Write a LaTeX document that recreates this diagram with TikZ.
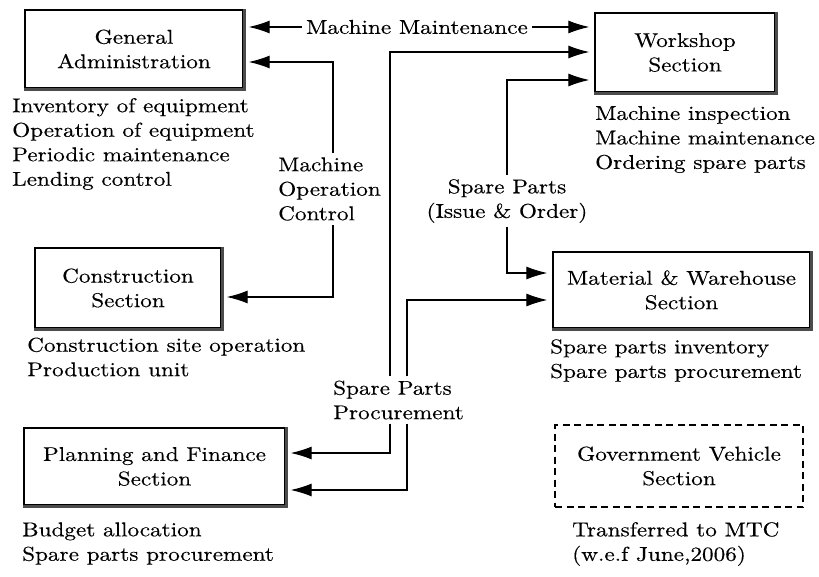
\documentclass[tikz,border=0pt]{standalone}
\usepackage{fontspec}
\setmainfont{lmroman10-regular.otf}[FakeStretch=1.16,FakeBold=0.35]
\usetikzlibrary{arrows.meta}

\begin{document}
\begin{tikzpicture}[x=1pt,y=-1pt,
  every node/.style={font=\fontsize{20}{24.5}\selectfont},
  box/.style={draw, line width=1.3pt, align=center, inner sep=0pt},
  govbox/.style={box, dash pattern=on 7pt off 4.5pt, line width=1.2pt},
  note/.style={align=left, inner sep=0pt, anchor=west},
  tag/.style={align=center, inner sep=4pt},
  sidetag/.style={align=left, inner sep=4pt, anchor=west},
  arr/.style={line width=1.2pt, -{Latex[length=21pt,width=13pt]}, shorten >=5pt},
  rim/.style={line width=2.4pt, black!70},
]
\useasboundingbox (0,0) rectangle (819,577);

% sections
\node[box, minimum width=218pt, minimum height=78pt] (ga) at (134,49) {General\\Administration};
\node[box, minimum width=180pt, minimum height=79pt] (ws) at (685,52.5) {Workshop\\Section};
\node[box, minimum width=186pt, minimum height=80pt] (cs) at (128,288) {Construction\\Section};
\node[box, minimum width=257pt, minimum height=76pt] (mw) at (681.5,290) {Material \& Warehouse\\Section};
\node[box, minimum width=261pt, minimum height=77pt] (pf) at (154.5,466.5) {Planning and Finance\\Section};
\node[govbox, minimum width=248pt, minimum height=82pt] (gv) at (679,466) {Government Vehicle\\Section};

% heavier bottom and right rims of the solid boxes
\foreach \n in {ga,ws,cs,mw,pf}
  \draw[rim] ([yshift=-1pt]\n.south west) -- ([shift={(1pt,-1pt)}]\n.south east) -- ([xshift=1pt]\n.north east);

% duties of each section
\node[note] (gal) at (12,144) {Inventory of equipment\\Operation of equipment\\Periodic maintenance\\Lending control};
\node[note] (wsl) at (595,139.5) {Machine inspection\\Machine maintenance\\Ordering spare parts};
\node[note] (csl) at (27,357) {Construction site operation\\Production unit};
\node[note] (mwl) at (550,360.5) {Spare parts inventory\\Spare parts procurement};
\node[note] (pfl) at (22,543.5) {Budget allocation\\Spare parts procurement};
\node[note] (gvl) at (572,544) {Transferred to MTC\\(w.e.f June,2006)};

% flow labels
\node[tag] (mm) at (417,27) {Machine Maintenance};
\node[sidetag] (moc) at (274,189) {Machine\\Operation\\Control};
\node[tag] (spio) at (507,201) {Spare Parts\\(Issue \& Order)};
\node[sidetag] (spp) at (329,400) {Spare Parts\\Procurement};

% machine maintenance
\draw[arr] (mm.west) -- (mm.west -| ga.east);
\draw[arr] (mm.east) -- (mm.east -| ws.west);

% machine operation control
\draw[arr] (moc.north -| 333,0) |- (ga.east |- 0,62);
\draw[arr] (moc.south -| 333,0) |- (cs.east |- 0,297);

% spare parts issue and order
\draw[arr] (spio.north) |- (ws.west |- 0,80);
\draw[arr] (spio.south) |- (mw.west |- 0,273);

% spare parts procurement
\draw[arr] (spp.north -| 390,0) |- (ws.west |- 0,52);
\draw[arr] (spp.south -| 390,0) |- (pf.east |- 0,453);
\draw[arr] (spp.north -| 407,0) |- (mw.west |- 0,300);
\draw[arr] (spp.south -| 407,0) |- (pf.east |- 0,490);
\end{tikzpicture}
\end{document}
